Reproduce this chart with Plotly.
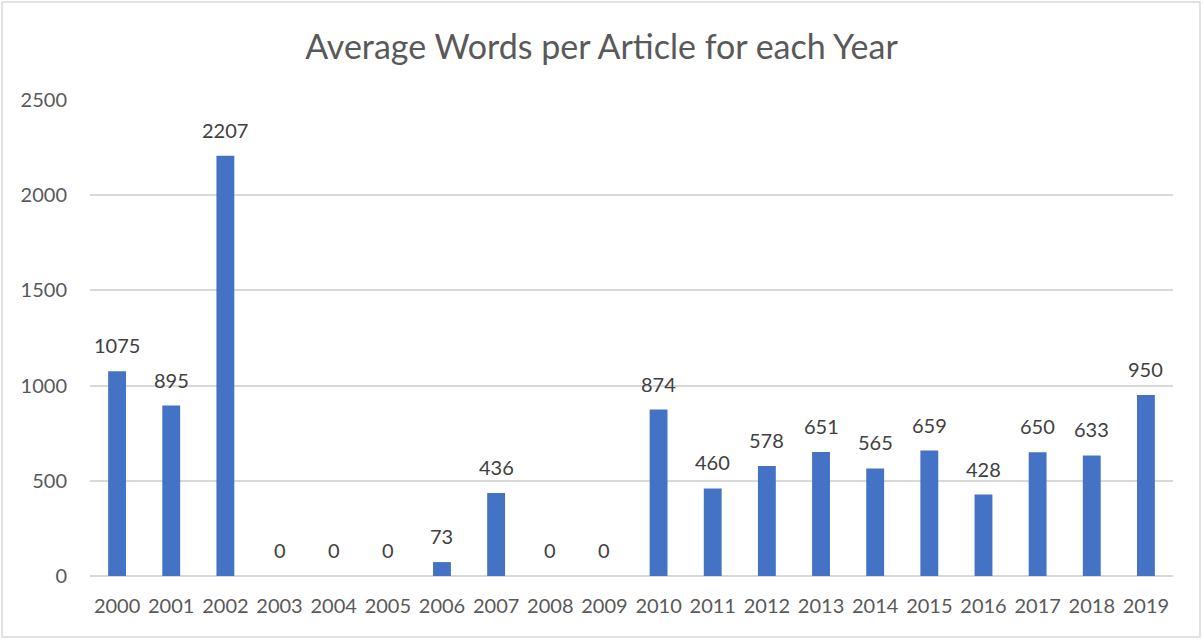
import plotly.graph_objects as go

years = ["2000", "2001", "2002", "2003", "2004", "2005", "2006", "2007", "2008", "2009",
         "2010", "2011", "2012", "2013", "2014", "2015", "2016", "2017", "2018", "2019"]
avg_words = [1075, 895, 2207, 0, 0, 0, 73, 436, 0, 0,
             874, 460, 578, 651, 565, 659, 428, 650, 633, 950]
y_ticks = [0, 500, 1000, 1500, 2000, 2500]

W, H = 1203, 640
L, R, T, B = 90, 30, 100, 64
pw, ph = W - L - R, H - T - B

fig = go.Figure(go.Bar(
    x=years, y=avg_words,
    marker=dict(color="#4472C4", line=dict(width=0)),
))

# value labels above each bar (category axis positions are serial indices)
for i, v in enumerate(avg_words):
    fig.add_annotation(x=i, y=v, text=str(v), showarrow=False,
                       xanchor="center", yanchor="bottom", yshift=12,
                       font=dict(family="Lato", size=20, color="#404040"))

# outer chart border
fig.add_shape(type="rect", xref="paper", yref="paper",
              x0=(2 - L) / pw, x1=(W - 3 - L) / pw,
              y0=(H - B - (H - 3)) / ph, y1=(H - B - 2) / ph,
              line=dict(color="#d9d9d9", width=1.5), fillcolor="rgba(0,0,0,0)", layer="below")

fig.update_layout(
    width=W, height=H,
    margin=dict(l=L, r=R, t=T, b=B),
    paper_bgcolor="white", plot_bgcolor="white",
    bargap=0.67,
    showlegend=False,
    title=dict(text="Average Words per Article for each Year",
               x=0.5, xanchor="center", y=1 - 47 / H, yanchor="middle",
               font=dict(family="Lato", size=34, color="#595959")),
    font=dict(family="Lato", color="#595959"),
    xaxis=dict(type="category", range=[-0.5, len(years) - 0.5],
               showgrid=False, showline=False, ticks="",
               tickfont=dict(size=20, color="#595959"), ticklabelstandoff=16),
    yaxis=dict(range=[0, 2500], tickvals=y_ticks, showgrid=True, gridcolor="#d9d9d9",
               gridwidth=1.5, zeroline=True, zerolinecolor="#d9d9d9", zerolinewidth=1.5,
               showline=False, ticks="", tickfont=dict(size=20, color="#595959"),
               ticklabelstandoff=22),
)

fig.write_html("out.html")
